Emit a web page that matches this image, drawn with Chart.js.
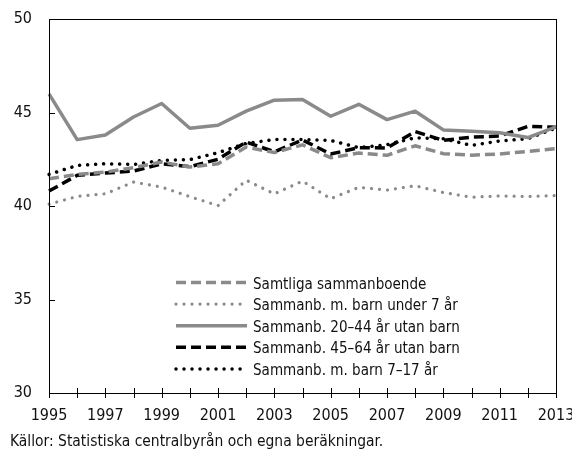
<!DOCTYPE html>
<html><head><meta charset="utf-8">
<script src="https://cdn.jsdelivr.net/npm/chart.js@4/dist/chart.umd.min.js"></script>
<style>html,body{margin:0;padding:0;background:#fff;}canvas{display:block;}</style>
</head><body>
<canvas id="c" width="572" height="450"></canvas>
<script>
const years = ['1995','1996','1997','1998','1999','2000','2001','2002','2003','2004','2005','2006','2007','2008','2009','2010','2011','2012','2013'];
const seriesNames = ['Samtliga sammanboende','Sammanb. m. barn under 7 år','Sammanb. 20–44 år utan barn','Sammanb. 45–64 år utan barn','Sammanb. m. barn 7–17 år'];
const samtliga = [41.46,41.69,41.81,42.05,42.35,42.08,42.26,43.15,42.86,43.27,42.58,42.83,42.71,43.22,42.8,42.72,42.78,42.92,43.07];
const under7 = [40.1,40.51,40.65,41.28,41.01,40.5,40.02,41.38,40.65,41.33,40.39,41.0,40.85,41.08,40.72,40.47,40.54,40.51,40.56];
const age2044 = [46.0,43.55,43.8,44.76,45.48,44.16,44.32,45.07,45.66,45.69,44.8,45.44,44.62,45.07,44.07,44.0,43.92,43.66,44.23];
const age4564 = [40.8,41.64,41.76,41.87,42.26,42.1,42.5,43.42,42.9,43.53,42.78,43.12,43.1,43.98,43.51,43.68,43.74,44.26,44.21];
const kids717 = [41.69,42.17,42.26,42.22,42.44,42.48,42.85,43.35,43.55,43.55,43.51,43.12,43.28,43.65,43.6,43.24,43.48,43.6,44.17];
const yTicks = [30,35,40,45,50];
const sourceText = 'Källor: Statistiska centralbyrån och egna beräkningar.';

const FONT = '"DejaVu Sans Condensed","Liberation Sans Narrow",sans-serif';
const GRAY = '#8a8a8a';

function ds(label, data, color, width, dash, cap) {
  return {label, data, borderColor: color, backgroundColor: color, borderWidth: width,
    borderDash: dash, borderCapStyle: cap, borderJoinStyle: 'round', pointRadius: 0, tension: 0, fill: false};
}

function condensedText(ctx, text, x, y, sx) {
  ctx.save();
  ctx.translate(x, y);
  ctx.scale(sx, 1);
  ctx.fillText(text, 0, 0);
  ctx.restore();
}

const boxPlugin = {
  id: 'boxPlugin',
  afterDraw(chart) {
    const ctx = chart.ctx, ca = chart.chartArea;
    const xs = chart.scales.x, ys = chart.scales.y;
    ctx.save();
    ctx.strokeStyle = '#000';
    ctx.lineWidth = 1;
    ctx.setLineDash([]);
    ctx.strokeRect(Math.round(ca.left)+0.5, Math.round(ca.top)+0.5, Math.round(ca.right-ca.left), Math.round(ca.bottom-ca.top));
    ctx.beginPath();
    years.forEach((y, i) => {
      const x = Math.round(xs.getPixelForValue(i)) + 0.5;
      ctx.moveTo(x, ca.bottom - 5); ctx.lineTo(x, ca.bottom + 5);
    });
    yTicks.forEach(v => {
      const y = Math.round(ys.getPixelForValue(v)) + 0.5;
      ctx.moveTo(ca.left, y); ctx.lineTo(ca.left + 6, y);
    });
    ctx.stroke();
    // legend
    const lx0 = 176, lx1 = 247, tx = 253, base0 = 288.5, step = 21.6;
    ctx.font = '16px ' + FONT;
    ctx.textBaseline = 'alphabetic';
    ctx.fillStyle = '#111';
    chart.data.datasets.forEach((d, i) => {
      const b = base0 + i * step;
      const y = b - 6;
      ctx.beginPath();
      ctx.strokeStyle = d.borderColor;
      ctx.lineWidth = d.borderWidth;
      ctx.lineCap = d.borderCapStyle;
      ctx.setLineDash(d.borderDash);
      ctx.moveTo(lx0, y); ctx.lineTo(lx1, y);
      ctx.stroke();
      condensedText(ctx, d.label, tx, b, 0.94);
    });
    ctx.setLineDash([]);
    ctx.fillStyle = '#111';
    condensedText(ctx, sourceText, 10, 446, 0.965);
    ctx.restore();
  }
};

new Chart(document.getElementById('c'), {
  type: 'line',
  data: {
    labels: years,
    datasets: [
      ds(seriesNames[0], samtliga, GRAY, 3.5, [10,5], 'butt'),
      ds(seriesNames[1], under7, GRAY, 3.2, [0.01,8], 'round'),
      ds(seriesNames[2], age2044, GRAY, 3.5, [], 'butt'),
      ds(seriesNames[3], age4564, '#000', 3.5, [10,5], 'butt'),
      ds(seriesNames[4], kids717, '#000', 3.5, [0.01,8], 'round')
    ]
  },
  options: {
    responsive: false,
    animation: false,
    layout: {padding: {top: 19, right: 16, bottom: 27, left: 0}},
    plugins: {legend: {display: false}, tooltip: {enabled: false}},
    scales: {
      x: {
        grid: {display: false, drawTicks: false},
        border: {display: false},
        afterFit(s) { s.height = 30; s.paddingLeft = 0; s.paddingRight = 0; },
        ticks: {
          autoSkip: false, maxRotation: 0, padding: 13, color: '#111',
          font: {family: FONT, size: 16},
          callback(v, i) { return i % 2 === 0 ? years[i] : ''; }
        }
      },
      y: {
        min: 30, max: 50,
        afterFit(s) { s.width = 49; s.paddingTop = 0; s.paddingBottom = 0; },
        afterBuildTicks(s) { s.ticks = yTicks.map(v => ({value: v})); },
        grid: {display: false, drawTicks: false},
        border: {display: false},
        ticks: {padding: 17, color: '#111', font: {family: FONT, size: 16}}
      }
    }
  },
  plugins: [boxPlugin]
});
</script>
</body></html>
